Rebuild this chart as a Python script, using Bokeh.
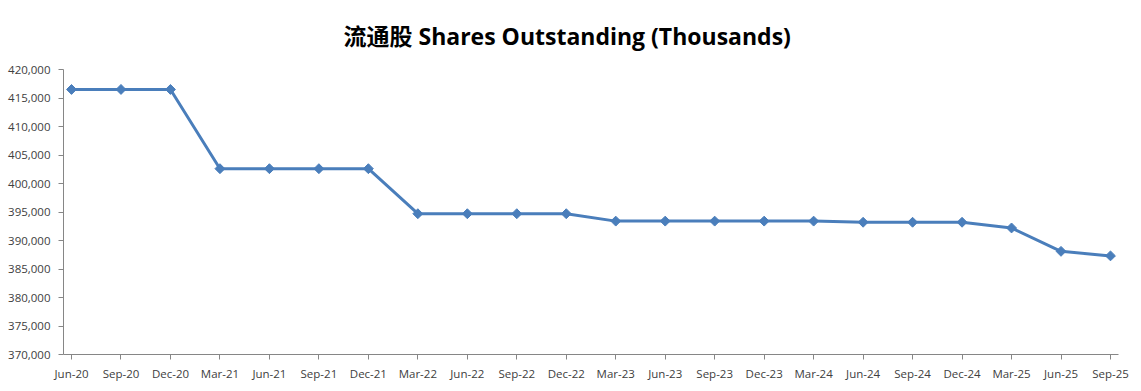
import math
from bokeh.plotting import figure
from bokeh.models import Range1d, FixedTicker, NumeralTickFormatter
from bokeh.embed import file_html
from bokeh.resources import INLINE

quarters = ["Jun-20", "Sep-20", "Dec-20", "Mar-21", "Jun-21", "Sep-21", "Dec-21",
            "Mar-22", "Jun-22", "Sep-22", "Dec-22", "Mar-23", "Jun-23", "Sep-23",
            "Dec-23", "Mar-24", "Jun-24", "Sep-24", "Dec-24", "Mar-25", "Jun-25", "Sep-25"]
shares = [416500, 416500, 416500, 402600, 402600, 402600, 402600,
          394700, 394700, 394700, 394700, 393400, 393400, 393400,
          393400, 393400, 393200, 393200, 393200, 392200, 388100, 387300]
y_ticks = list(range(370000, 420001, 5000))
title_text = "流通股 Shares Outstanding (Thousands)"

idx = list(range(len(quarters)))

p = figure(frame_width=1055, frame_height=285, output_backend="svg", toolbar_location=None,
           x_range=Range1d(-0.162, len(quarters) - 1 + 0.162),
           y_range=Range1d(370000, 420000),
           min_border_left=63, min_border_right=20, min_border_top=69, min_border_bottom=33)
p.outline_line_color = None
p.xgrid.grid_line_color = None
p.ygrid.grid_line_color = None
p.background_fill_color = "white"
p.border_fill_color = "white"

p.title.text = title_text
p.title.align = "left"
p.title.offset = 280
p.title.text_font = "Open Sans, Noto Sans CJK SC"
p.title.text_font_style = "bold"
p.title.text_font_size = "23px"
p.title.text_color = "#000000"
p.title.standoff = 35

text_color = "#404040"
axis_color = "#868686"

p.xaxis.ticker = FixedTicker(ticks=idx)
p.xaxis.major_label_overrides = {i: q for i, q in zip(idx, quarters)}
p.yaxis.ticker = FixedTicker(ticks=y_ticks)
p.yaxis.formatter = NumeralTickFormatter(format="0,0")
for ax in (p.xaxis, p.yaxis):
    ax.axis_line_color = axis_color
    ax.major_tick_line_color = axis_color
    ax.minor_tick_line_color = None
    ax.major_tick_in = 0
    ax.major_tick_out = 5
    ax.major_label_text_font = "Open Sans"
    ax.major_label_text_font_size = "11.5px"
    ax.major_label_text_color = text_color
p.xaxis.major_label_standoff = 6
p.yaxis.major_label_standoff = 8

p.line(idx, shares, line_color="#4A7EBB", line_width=3)
p.scatter(idx, shares, marker="square", angle=math.pi / 4, size=7,
          fill_color="#4A7EBB", line_color="#4A7EBB")

open("out.html", "w").write(file_html(p, INLINE))
